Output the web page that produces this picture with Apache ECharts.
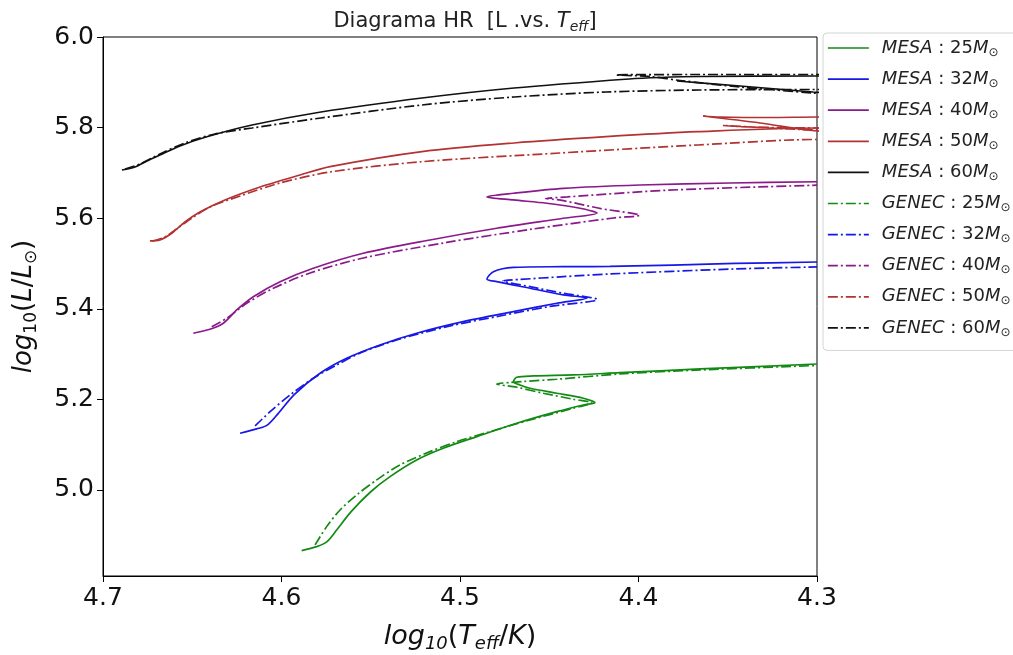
<!DOCTYPE html>
<html>
<head>
<meta charset="utf-8">
<title>Diagrama HR</title>
<script src="https://cdn.jsdelivr.net/npm/echarts@6/dist/echarts.min.js"></script>
<style>
  html, body { margin: 0; padding: 0; background: #fff; }
  #chart { width: 1013px; height: 655px; }
</style>
</head>
<body>
<div id="chart"></div>
<script>
// axis ticks
const xTicks = [4.3, 4.4, 4.5, 4.6, 4.7];
const yTicks = [5.0, 5.2, 5.4, 5.6, 5.8, 6.0];

const models = ['MESA', 'GENEC'];
const masses = [25, 32, 40, 50, 60];
const colors = ['#138a13', '#1717e8', '#8a1a8a', '#b33232', '#111111'];

// tracks as [log10 Teff, log10 L/Lsun]
const mesa25 = [
  [4.5887, 4.866], [4.5803, 4.8748], [4.5745, 4.8860], [4.5690, 4.9120], [4.5610, 4.9520],
  [4.5500, 4.9960], [4.5392, 5.0294], [4.5243, 5.0662], [4.5094, 5.0921], [4.4906, 5.1177],
  [4.4682, 5.1472], [4.4458, 5.1728], [4.4309, 5.1876], [4.4244, 5.1927], [4.4309, 5.2024],
  [4.4458, 5.2135], [4.4608, 5.2245], [4.4664, 5.2318], [4.4701, 5.2391], [4.4682, 5.2488],
  [4.4589, 5.2517], [4.4365, 5.2539], [4.4104, 5.2589], [4.3655, 5.2671], [4.3, 5.2781]
];
const genec25 = [
  [4.5812, 4.8786], [4.5747, 4.919], [4.5672, 4.9558], [4.5579, 4.989], [4.5467, 5.0221],
  [4.5336, 5.0552], [4.5168, 5.0846], [4.5018, 5.1066], [4.4832, 5.1287], [4.4608, 5.1545],
  [4.4365, 5.1804], [4.4262, 5.1927], [4.4365, 5.2002], [4.4533, 5.2135], [4.4682, 5.2267],
  [4.4794, 5.234], [4.472, 5.2373], [4.4645, 5.2395], [4.4458, 5.2444], [4.4104, 5.2561],
  [4.3655, 5.2649], [4.3, 5.2748]
];
const mesa32 = [
  [4.6232, 5.1252], [4.6139, 5.1347], [4.6080, 5.1430], [4.6020, 5.1680], [4.5930, 5.2100],
  [4.5784, 5.2576], [4.5635, 5.2907], [4.5448, 5.3201], [4.5243, 5.3459], [4.4982, 5.3715],
  [4.4701, 5.3936], [4.4458, 5.4121], [4.4289, 5.4238], [4.4421, 5.4305], [4.4608, 5.4453],
  [4.4794, 5.4598], [4.4849, 5.4658], [4.4813, 5.4819], [4.4701, 5.4912], [4.4421, 5.4929],
  [4.416, 5.4934], [4.3459, 5.5], [4.3, 5.5033]
];
const genec32 = [
  [4.6148, 5.1413], [4.6064, 5.1728], [4.5952, 5.2097], [4.5822, 5.2466], [4.5691, 5.2759],
  [4.5542, 5.3053], [4.5336, 5.3333], [4.5056, 5.362], [4.4776, 5.3841], [4.4496, 5.4051],
  [4.4232, 5.4205], [4.4421, 5.4342], [4.4608, 5.4488], [4.4759, 5.4614], [4.4664, 5.4647],
  [4.4421, 5.4709], [4.416, 5.4768], [4.3459, 5.4879], [4.3, 5.4923]
];
const mesa40 = [
  [4.6494, 5.3459], [4.6401, 5.3547], [4.6326, 5.368], [4.6251, 5.3974], [4.6158, 5.4267],
  [4.6008, 5.4598], [4.5822, 5.4894], [4.5542, 5.5225], [4.5168, 5.5519], [4.4794, 5.5777],
  [4.4421, 5.5998], [4.4232, 5.6115], [4.4328, 5.6219], [4.4514, 5.6329], [4.4701, 5.6402],
  [4.4849, 5.647], [4.4701, 5.655], [4.4421, 5.666], [4.3992, 5.6733], [4.3487, 5.6777],
  [4.3, 5.6804]
];
const genec40 = [
  [4.6391, 5.3605], [4.6307, 5.379], [4.6195, 5.4121], [4.6046, 5.4453], [4.584, 5.479],
  [4.5542, 5.5121], [4.5075, 5.5464], [4.4608, 5.5751], [4.4141, 5.6004], [4.3994, 5.6064],
  [4.421, 5.6212], [4.4436, 5.6397], [4.452, 5.6433], [4.4398, 5.647], [4.3835, 5.6618],
  [4.3, 5.6728]
];
const mesa50 = [
  [4.6737, 5.5497], [4.6681, 5.5519], [4.6613, 5.5673], [4.6541, 5.5916], [4.6457, 5.6137],
  [4.6317, 5.6402], [4.612, 5.6689], [4.5896, 5.6954], [4.5728, 5.7137], [4.5213, 5.7468],
  [4.4697, 5.766], [4.4182, 5.7799], [4.3667, 5.7909], [4.3, 5.7991], [4.2927, 5.7991],
  [4.2927, 5.7903], [4.3056, 5.7947], [4.3319, 5.8102], [4.3639, 5.8256], [4.3543, 5.8234],
  [4.3263, 5.8223], [4.3, 5.8234], [4.2927, 5.8234]
];
const genec50 = [
  [4.6725, 5.5497], [4.6653, 5.5585], [4.658, 5.5784], [4.6501, 5.6004], [4.6401, 5.6247],
  [4.6232, 5.649], [4.6008, 5.6777], [4.5728, 5.702], [4.5213, 5.7247], [4.444, 5.7439],
  [4.3667, 5.7616], [4.3, 5.7737], [4.2927, 5.7737], [4.2927, 5.7925], [4.3095, 5.7958],
  [4.3527, 5.8046], [4.3375, 5.8013], [4.3, 5.7991], [4.2927, 5.7991]
];
const mesa60 = [
  [4.6894, 5.7064], [4.6821, 5.713], [4.6754, 5.7263], [4.6681, 5.7395], [4.6569, 5.7594],
  [4.6423, 5.7792], [4.6165, 5.8057], [4.5779, 5.8344], [4.5213, 5.8653], [4.4697, 5.8874],
  [4.4053, 5.9073], [4.388, 5.9106], [4.3655, 5.9128], [4.3, 5.9139], [4.2927, 5.9139],
  [4.2927, 5.8764], [4.3022, 5.8786], [4.3431, 5.8918], [4.3784, 5.9029]
];
const genec60 = [
  [4.6877, 5.7086], [4.6793, 5.7196], [4.6681, 5.7417], [4.6541, 5.766], [4.6373, 5.7859],
  [4.6165, 5.7991], [4.5779, 5.8212], [4.5213, 5.8499], [4.4697, 5.8675], [4.4182, 5.8786],
  [4.3655, 5.883], [4.3, 5.8841], [4.2927, 5.8841], [4.2927, 5.8742], [4.3022, 5.8764],
  [4.3431, 5.8896], [4.3768, 5.904], [4.3936, 5.9128], [4.4126, 5.9161], [4.3655, 5.9172],
  [4.3, 5.9172], [4.2927, 5.9172]
];

const tracks = {
  MESA: [mesa25, mesa32, mesa40, mesa50, mesa60],
  GENEC: [genec25, genec32, genec40, genec50, genec60]
};

const chart = echarts.init(document.getElementById('chart'));

const series = [];
models.forEach(model => {
  masses.forEach((m, i) => {
    series.push({
      name: model + ':' + m,
      type: 'line',
      data: tracks[model][i],
      showSymbol: false,
      symbol: 'none',
      smooth: 0.3,
      clip: true,
      color: colors[i],
      lineStyle: {
        color: colors[i],
        width: 1.7,
        type: model === 'MESA' ? 'solid' : [10, 3, 2, 3]
      }
    });
  });
});

const option = {
  backgroundColor: '#ffffff',
  animation: false,
  title: {
    text: '{n|Diagrama HR  [L .vs. }{i|T}{s|eff}{n|]}',
    left: 460,
    top: 5,
    textAlign: 'center',
    textStyle: {
      fontWeight: 'normal',
      rich: {
        n: { fontFamily: 'DejaVu Sans', fontSize: 21, fontWeight: 'normal', color: '#222', lineHeight: 24 },
        i: { fontFamily: 'DejaVu Sans', fontSize: 21, fontWeight: 'normal', fontStyle: 'italic', color: '#222', lineHeight: 24 },
        s: { fontFamily: 'DejaVu Sans', fontSize: 14, fontWeight: 'normal', fontStyle: 'italic', color: '#222', lineHeight: 13, verticalAlign: 'bottom' }
      }
    }
  },
  legend: {
    orient: 'vertical',
    left: 823,
    top: 33,
    padding: [6, 40, 12, 4],
    itemWidth: 41,
    itemHeight: 12,
    itemGap: 11.6,
    borderColor: '#d4d4d4',
    borderWidth: 1,
    borderRadius: 4,
    backgroundColor: '#fff',
    itemStyle: { opacity: 0 },
    lineStyle: { width: 1.7 },
    data: series.map(s => s.name),
    formatter: name => {
      const p = name.split(':');
      return '{a|' + p[0] + '}{n| : ' + p[1] + '}{i|M}{s|⊙}';
    },
    textStyle: {
      rich: {
        a: { fontFamily: 'DejaVu Sans', fontSize: 18, fontStyle: 'italic', color: '#222', lineHeight: 21, padding: [0, 0, 0, 8] },
        n: { fontFamily: 'DejaVu Sans', fontSize: 18, color: '#222', lineHeight: 21 },
        i: { fontFamily: 'DejaVu Sans', fontSize: 18, fontStyle: 'italic', color: '#222', lineHeight: 21 },
        s: { fontFamily: 'DejaVu Sans', fontSize: 12, color: '#222', lineHeight: 11, verticalAlign: 'bottom' }
      }
    }
  },
  grid: {
    left: 103,
    top: 37,
    width: 714,
    height: 539,
    outerBoundsMode: 'none',
    show: true,
    borderColor: '#000',
    borderWidth: 1,
    backgroundColor: 'transparent'
  },
  xAxis: {
    type: 'value',
    inverse: true,
    min: 4.3,
    max: 4.7,
    interval: 0.1,
    name: '{i|log}{s|10}{n|(}{i|T}{s|eff}{n|/}{i|K}{n|)}',
    nameLocation: 'middle',
    nameGap: 45,
    nameTextStyle: {
      rich: {
        i: { fontFamily: 'DejaVu Sans', fontSize: 27, fontStyle: 'italic', color: '#111', lineHeight: 32 },
        n: { fontFamily: 'DejaVu Sans', fontSize: 27, color: '#111', lineHeight: 32 },
        s: { fontFamily: 'DejaVu Sans', fontSize: 18, fontStyle: 'italic', color: '#111', lineHeight: 15, verticalAlign: 'bottom' }
      }
    },
    axisLine: { lineStyle: { color: '#000', width: 1 } },
    axisTick: { length: 6, lineStyle: { color: '#000' } },
    axisLabel: {
      fontFamily: 'DejaVu Sans',
      fontSize: 25,
      color: '#111',
      margin: 10,
      formatter: v => v.toFixed(1)
    },
    splitLine: { show: false }
  },
  yAxis: {
    type: 'value',
    min: 4.81,
    max: 6.0,
    name: '{i|log}{s|10}{n|(}{i|L}{n|/}{i|L}{s|⊙}{n|)}',
    nameLocation: 'middle',
    nameRotate: 90,
    nameGap: 63,
    nameTextStyle: {
      rich: {
        i: { fontFamily: 'DejaVu Sans', fontSize: 26, fontStyle: 'italic', color: '#111', lineHeight: 32 },
        n: { fontFamily: 'DejaVu Sans', fontSize: 26, color: '#111', lineHeight: 32 },
        s: { fontFamily: 'DejaVu Sans', fontSize: 17, color: '#111', lineHeight: 15, verticalAlign: 'bottom' }
      }
    },
    axisLine: { show: true, lineStyle: { color: '#000', width: 1 } },
    axisTick: { show: true, length: 6, customValues: yTicks, lineStyle: { color: '#000' } },
    axisLabel: {
      fontFamily: 'DejaVu Sans',
      fontSize: 25,
      color: '#111',
      margin: 9,
      customValues: yTicks,
      formatter: v => v.toFixed(1)
    },
    splitLine: { show: false }
  },
  series: series
};

chart.setOption(option);
</script>
</body>
</html>
